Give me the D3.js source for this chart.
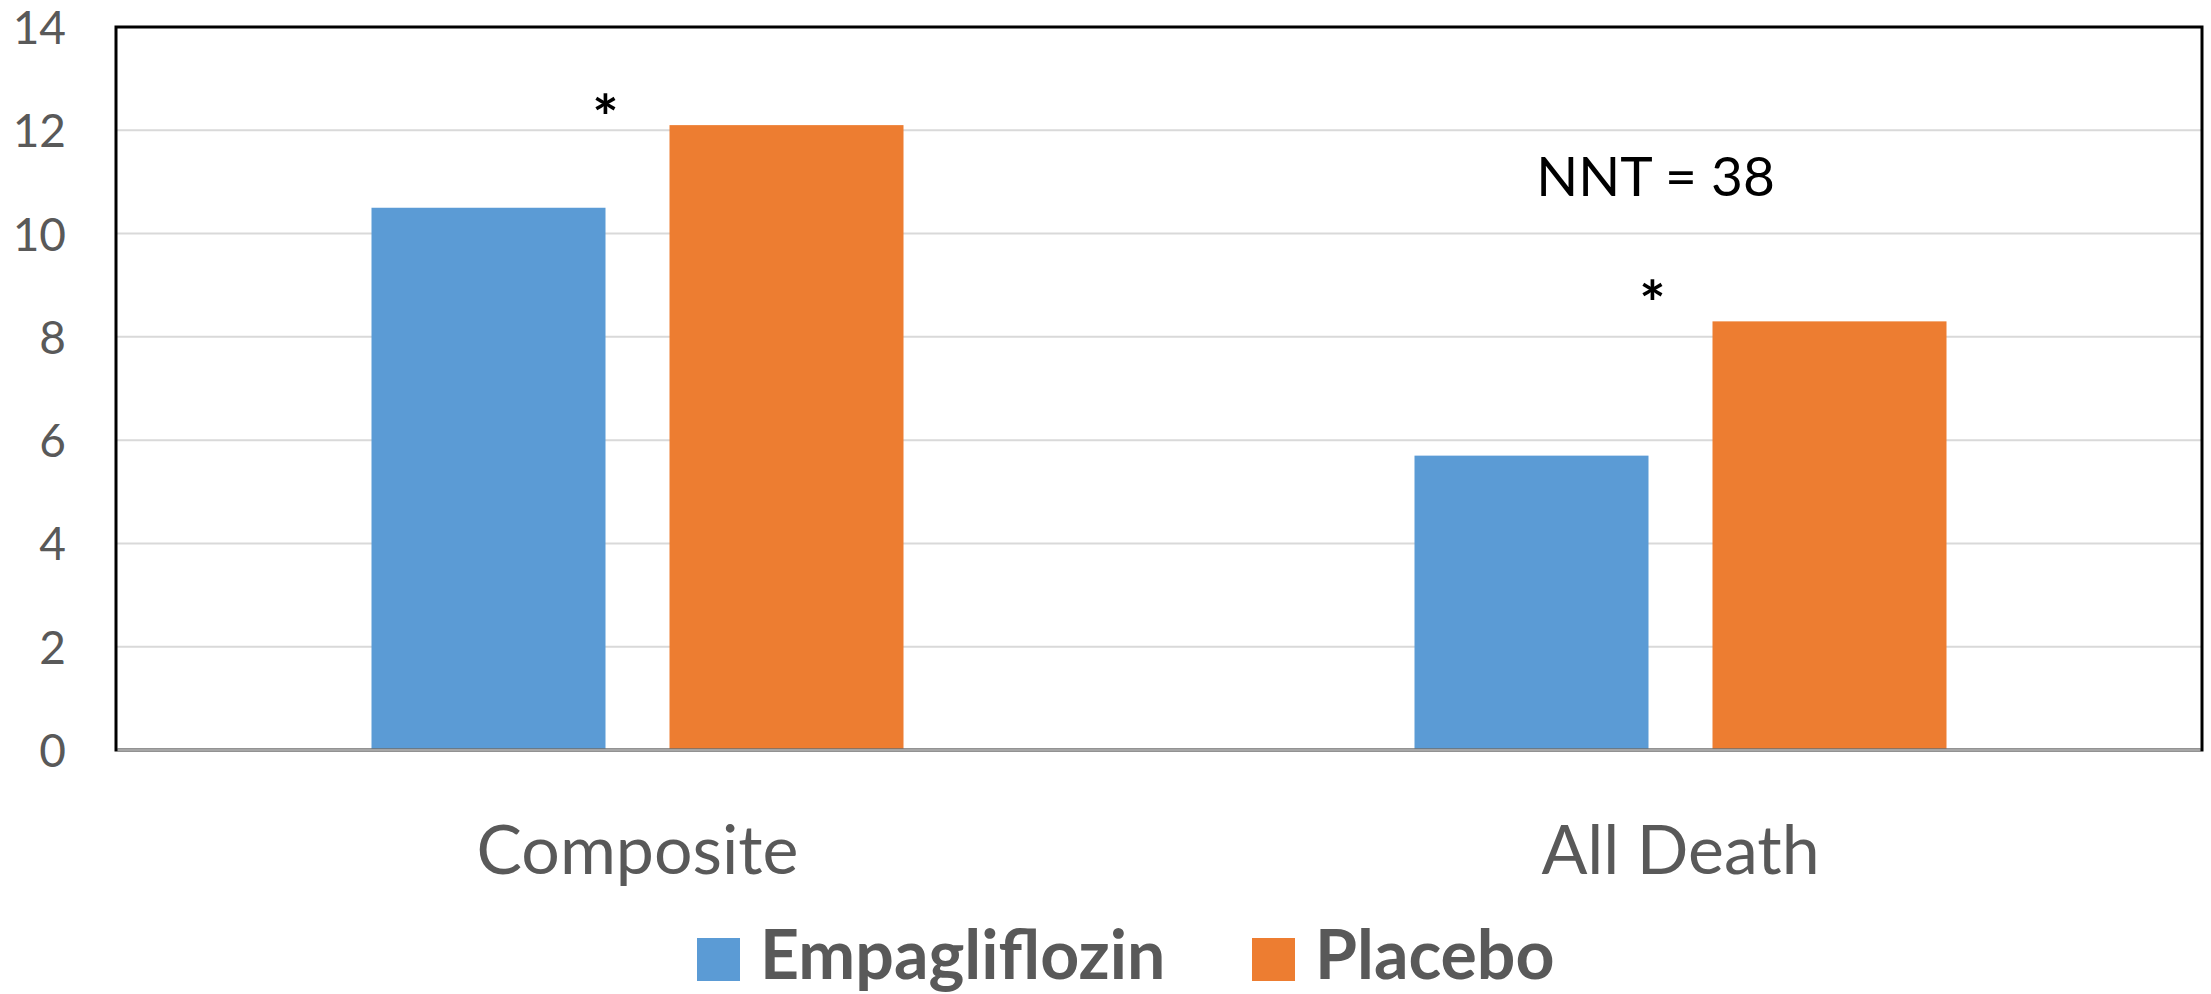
<!DOCTYPE html>
<html><head><meta charset="utf-8">
<script src="https://cdn.jsdelivr.net/npm/d3@7"></script>
<style>html,body{margin:0;padding:0;background:#fff;}svg{display:block;}</style>
</head><body>
<script>
const categories = ["Composite", "All Death"];
const seriesNames = ["Empagliflozin", "Placebo"];
const empagliflozin = [10.5, 5.7];
const placebo = [12.1, 8.3];
const yTicks = [0, 2, 4, 6, 8, 10, 12, 14];
const colors = ["#5B9BD5", "#ED7D31"];
const starCats = ["Composite", "All Death"];
const starValues = [12.4, 8.8];
const nntLabel = {cat: "All Death", text: "NNT = 38", value: 11.05};

const W = 2211, H = 994;
const m = {left: 116, right: 9, top: 27, bottom: 244};
const svg = d3.select("body").append("svg").attr("width", W).attr("height", H);
const font = "Lato, 'Open Sans', sans-serif";

const groupW = 532;
const x = d3.scaleBand().domain(categories).range([m.left, W - m.right]).paddingInner(0).paddingOuter(0);
const xs = d3.scaleBand().domain(seriesNames).range([0, groupW]).paddingInner(64 / 298).paddingOuter(0);
const y = d3.scaleLinear().domain([0, 14]).range([H - m.bottom, m.top]);
const groupOffset = (x.bandwidth() - groupW) / 2;

// gridlines
svg.append("g").selectAll("line").data(yTicks.filter(d => d > 0 && d < 14)).join("line")
  .attr("x1", m.left).attr("x2", W - m.right)
  .attr("y1", d => y(d)).attr("y2", d => y(d))
  .attr("stroke", "#d9d9d9").attr("stroke-width", 2);

// y axis labels
const yAxis = d3.axisLeft(y).tickValues(yTicks).tickSize(0).tickPadding(0);
const gy = svg.append("g").attr("transform", `translate(66,0)`).call(yAxis);
gy.select(".domain").remove();
gy.selectAll("text").attr("font-family", font).attr("font-size", 46).attr("fill", "#595959").attr("dy", "0.36em");

// bars
const data = [];
categories.forEach((c, i) => {
  data.push({cat: c, s: seriesNames[0], v: empagliflozin[i], col: colors[0]});
  data.push({cat: c, s: seriesNames[1], v: placebo[i], col: colors[1]});
});
svg.append("g").selectAll("rect").data(data).join("rect")
  .attr("x", d => x(d.cat) + groupOffset + xs(d.s))
  .attr("width", xs.bandwidth())
  .attr("y", d => y(d.v))
  .attr("height", d => y(0) - y(d.v))
  .attr("fill", d => d.col);

// frame
svg.append("rect").attr("x", m.left).attr("y", m.top)
  .attr("width", W - m.right - m.left).attr("height", y(0) - m.top)
  .attr("fill", "none").attr("stroke", "#000").attr("stroke-width", 3);
svg.append("line").attr("x1", m.left + 1.5).attr("x2", W - m.right - 1.5)
  .attr("y1", y(0)).attr("y2", y(0)).attr("stroke", "#a6a6a6").attr("stroke-width", 3);

// x axis labels
const xAxis = d3.axisBottom(x).tickSize(0).tickPadding(0);
const gx = svg.append("g").attr("transform", `translate(0,${y(0)})`).call(xAxis);
gx.select(".domain").remove();
gx.selectAll("text").attr("font-family", font).attr("font-size", 68).attr("fill", "#595959")
  .attr("dy", null).attr("y", 124);

// stars (centred near the right edge of the Empagliflozin bar)
const starX = [0, 4];
svg.append("g").selectAll("text").data(starCats).join("text")
  .attr("x", (c, i) => x(c) + groupOffset + xs(seriesNames[0]) + xs.bandwidth() + starX[i])
  .attr("y", (c, i) => y(starValues[i]) + 30)
  .attr("text-anchor", "middle")
  .attr("font-family", font).attr("font-weight", "bold")
  .attr("font-size", 62).attr("fill", "#000")
  .text("*");

// NNT label
svg.append("text")
  .attr("x", x(nntLabel.cat) + x.bandwidth() / 2 - 25)
  .attr("y", y(nntLabel.value))
  .attr("dy", "0.3em")
  .attr("text-anchor", "middle")
  .attr("font-family", font).attr("font-size", 55).attr("fill", "#000")
  .text(nntLabel.text);

// legend
const lg = svg.append("g");
const legendItems = [{name: seriesNames[0], col: colors[0], x: 697}, {name: seriesNames[1], col: colors[1], x: 1252}];
legendItems.forEach(it => {
  lg.append("rect").attr("x", it.x).attr("y", 938).attr("width", 43).attr("height", 43).attr("fill", it.col);
  lg.append("text").attr("x", it.x + 63).attr("y", 979).attr("font-family", font).attr("font-weight", "bold")
    .attr("font-size", 68).attr("fill", "#595959").text(it.name);
});
</script>
</body></html>
